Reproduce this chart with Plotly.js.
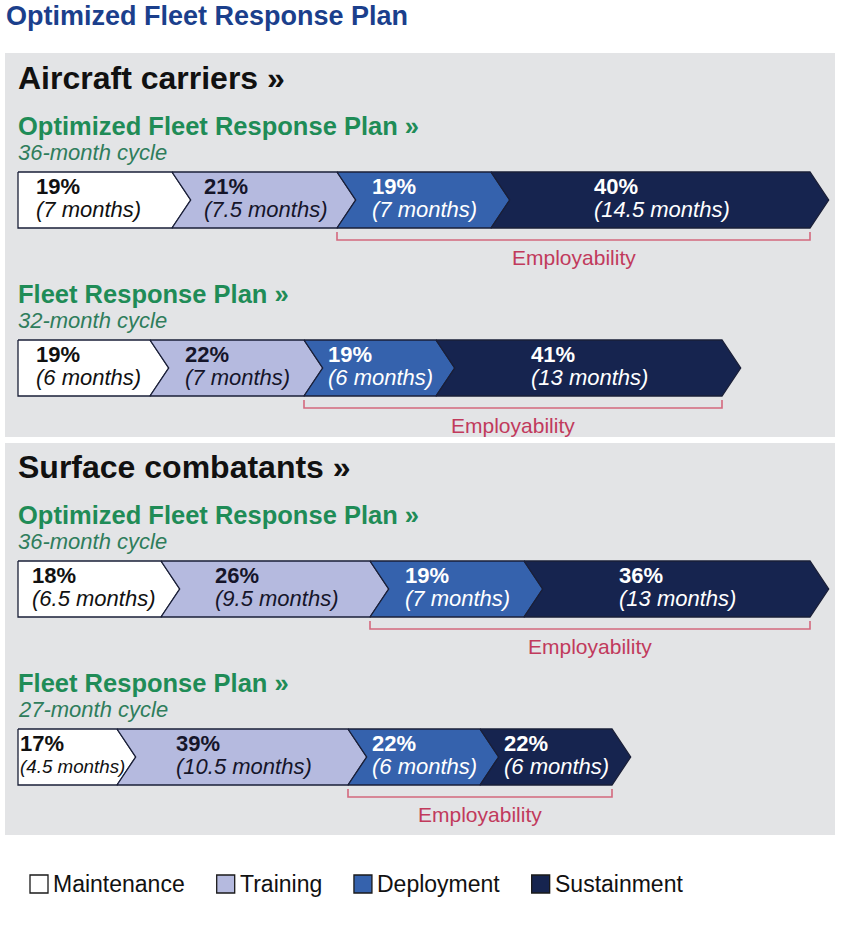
<!DOCTYPE html>
<html><head><meta charset="utf-8">
<script src="https://cdn.plot.ly/plotly-3.0.1.min.js"></script>
<style>html,body{margin:0;padding:0;background:#fff;} #chart{width:850px;height:951px;}</style>
</head><body><div id="chart"></div>
<script>
// ---------- DATA ----------
const phases = ['Maintenance', 'Training', 'Deployment', 'Sustainment'];
const shipClasses = ['Aircraft carriers »', 'Surface combatants »'];
const planNames = ['Optimized Fleet Response Plan »', 'Fleet Response Plan »', 'Optimized Fleet Response Plan »', 'Fleet Response Plan »'];
const cycleLabels = ['36-month cycle', '32-month cycle', '36-month cycle', '27-month cycle'];
const carrierOFRPMonths = [7, 7.5, 7, 14.5];
const carrierOFRPPct = [19, 21, 19, 40];
const carrierFRPMonths = [6, 7, 6, 13];
const carrierFRPPct = [19, 22, 19, 41];
const surfaceOFRPMonths = [6.5, 9.5, 7, 13];
const surfaceOFRPPct = [18, 26, 19, 36];
const surfaceFRPMonths = [4.5, 10.5, 6, 6];
const surfaceFRPPct = [17, 39, 22, 22];
const employabilityPhases = ['Deployment', 'Sustainment'];
const employabilityLabel = 'Employability';
const chartTitle = 'Optimized Fleet Response Plan';

// ---------- STYLE / LAYOUT ----------
const planMonths = [carrierOFRPMonths, carrierFRPMonths, surfaceOFRPMonths, surfaceFRPMonths];
const planPct = [carrierOFRPPct, carrierFRPPct, surfaceOFRPPct, surfaceFRPPct];
const phaseColors = ['#ffffff', '#b5badf', '#3562ad', '#16244f'];
const phaseTextColors = ['#111111', '#15152a', '#ffffff', '#ffffff'];
const FONT = '"Liberation Sans", Arial, sans-serif';
const W = 850, H = 951, X0PX = 18, PXPM = 22, TIP = 0.85, BAR_H = 56;
const PAD = 2 / PXPM; // annotation inner padding compensation
const rowBarTop = [172, 340, 561, 729];
const classHeadY = [78, 467];
const panels = [[53, 437], [443, 835]];

const ctx = document.createElement('canvas').getContext('2d');
function tw(text, font) { ctx.font = font; return ctx.measureText(text).width; }

const traces = [];
const annotations = [];
const shapes = [];

panels.forEach(p => shapes.push({
  type: 'rect', xref: 'paper', yref: 'y', x0: 5 / W, x1: 835 / W, y0: p[0], y1: p[1],
  fillcolor: '#e3e4e6', line: { width: 0 }, layer: 'below'
}));

shipClasses.forEach((c, i) => annotations.push({
  xref: 'x', yref: 'y', x: -PAD, y: classHeadY[i], xanchor: 'left', yanchor: 'middle', showarrow: false,
  text: '<b>' + c + '</b>', font: { family: FONT, size: 32, color: '#111111' }
}));

planMonths.forEach((months, r) => {
  const top = rowBarTop[r], bot = top + BAR_H, mid = (top + bot) / 2;
  annotations.push({
    xref: 'x', yref: 'y', x: -PAD, y: top - 46, xanchor: 'left', yanchor: 'middle', showarrow: false,
    text: '<b>' + planNames[r] + '</b>', font: { family: FONT, size: 25.5, color: '#1f8c57' }
  });
  annotations.push({
    xref: 'x', yref: 'y', x: -PAD, y: top - 20, xanchor: 'left', yanchor: 'middle', showarrow: false,
    text: '<i>' + cycleLabels[r] + '</i>', font: { family: FONT, size: 22, color: '#2f7d5c' }
  });
  let s = 0;
  const starts = [], ends = [];
  months.forEach((m, i) => {
    const e = s + m;
    starts.push(s); ends.push(e);
    const xs = [s, e, e + TIP, e, s];
    const ys = [top, top, mid, bot, bot];
    if (i > 0) { xs.push(s + TIP); ys.push(mid); }
    xs.push(s); ys.push(top);
    traces.push({
      type: 'scatter', mode: 'lines', x: xs, y: ys, fill: 'toself', fillcolor: phaseColors[i],
      line: { color: '#1a1f38', width: 1.3 }, hoverinfo: 'skip', showlegend: false, name: phases[i]
    });
    const pctText = planPct[r][i] + '%';
    const monText = '(' + m + ' months)';
    const pctW = tw(pctText, 'bold 22px "Liberation Sans"');
    let monSize = 22;
    let monW = tw(monText, 'italic 22px "Liberation Sans"');
    const avail = (m + TIP * 0.45) * PXPM - 2;
    if (monW > avail) { monSize = 22 * avail / monW; monW = avail; }
    const wM = Math.max(pctW, monW) / PXPM;
    let left;
    if (i === 0) left = s + Math.min(0.8, Math.max(0.1, (m + TIP * 0.5 - wM) / 2));
    else left = (s + e) / 2 + 0.5 - wM / 2;
    annotations.push({
      xref: 'x', yref: 'y', x: left - PAD, y: top + 14, xanchor: 'left', yanchor: 'middle', showarrow: false,
      text: '<b>' + pctText + '</b>', font: { family: FONT, size: 22, color: phaseTextColors[i] }
    });
    annotations.push({
      xref: 'x', yref: 'y', x: left - PAD, y: top + 37, xanchor: 'left', yanchor: 'middle', showarrow: false,
      text: '<i>' + monText + '</i>', font: { family: FONT, size: monSize, color: phaseTextColors[i] }
    });
    s = e;
  });
  const i0 = phases.indexOf(employabilityPhases[0]);
  const i1 = phases.indexOf(employabilityPhases[employabilityPhases.length - 1]);
  const bx0 = starts[i0], bx1 = ends[i1];
  traces.push({
    type: 'scatter', mode: 'lines', x: [bx0, bx0, bx1, bx1], y: [bot + 4, bot + 12, bot + 12, bot + 4],
    line: { color: '#d4687e', width: 1.6 }, hoverinfo: 'skip', showlegend: false
  });
  annotations.push({
    xref: 'x', yref: 'y', x: (bx0 + bx1) / 2, y: bot + 29, xanchor: 'center', yanchor: 'middle', showarrow: false,
    text: employabilityLabel, font: { family: FONT, size: 21, color: '#c13a5c' }
  });
});

// legend (custom)
let cursor = 30;
phases.forEach((p, i) => {
  shapes.push({
    type: 'rect', xref: 'paper', yref: 'y', x0: cursor / W, x1: (cursor + 18) / W, y0: 875, y1: 893,
    fillcolor: phaseColors[i], line: { color: '#1a1a1a', width: 1.3 }
  });
  annotations.push({
    xref: 'paper', yref: 'y', x: (cursor + 21) / W, y: 884, xanchor: 'left', yanchor: 'middle', showarrow: false,
    text: p, font: { family: FONT, size: 23, color: '#111111' }
  });
  cursor = cursor + 23 + tw(p, '23px "Liberation Sans"') + 32;
});

const layout = {
  width: W, height: H,
  margin: { l: 0, r: 0, t: 0, b: 0, pad: 0 },
  paper_bgcolor: '#ffffff', plot_bgcolor: 'rgba(0,0,0,0)',
  title: {
    text: '<b>' + chartTitle + '</b>', x: 6 / W, xanchor: 'left', xref: 'container',
    y: 1 - 16 / H, yanchor: 'middle', yref: 'container',
    font: { family: FONT, size: 27, color: '#1b3f8c' }
  },
  xaxis: { range: [-X0PX / PXPM, (W - X0PX) / PXPM], visible: false, fixedrange: true },
  yaxis: { range: [H, 0], visible: false, fixedrange: true },
  showlegend: false,
  shapes: shapes,
  annotations: annotations
};

Plotly.newPlot('chart', traces, layout, { staticPlot: true, displayModeBar: false });
</script>
</body></html>
